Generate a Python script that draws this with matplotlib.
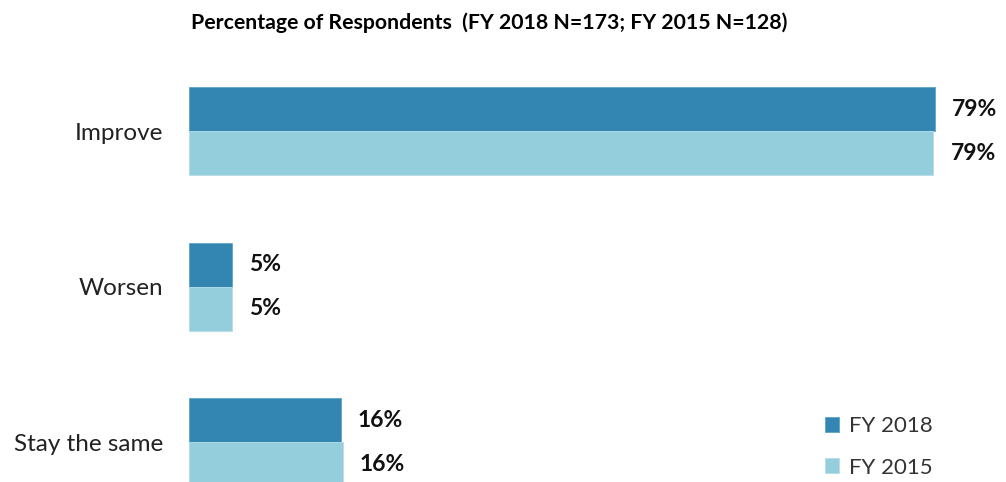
import numpy as np
import matplotlib
matplotlib.use("Agg")
import matplotlib.pyplot as plt

plt.rcParams['font.family'] = ['Lato', 'DejaVu Sans']

# data
categories = ['Improve', 'Worsen', 'Stay the same']
fy2018 = [79.2, 4.6, 16.1]
fy2015 = [79.0, 4.6, 16.3]
series_names = ['FY 2018', 'FY 2015']
title = 'Percentage of Respondents  (FY 2018 N=173; FY 2015 N=128)'

dark = '#3386b1'
light = '#94cedd'

fig = plt.figure(figsize=(10.06, 4.82), dpi=100)
ax = fig.add_axes([189 / 1006, 0, 801 / 1006, 422 / 482])

y = np.arange(len(categories))
h = 0.283
b1 = ax.barh(y - h / 2, fy2018, height=h, color=dark, edgecolor='#5fa3c6', linewidth=0.6, label=series_names[0])
b2 = ax.barh(y + h / 2, fy2015, height=h, color=light, edgecolor='#b5dde8', linewidth=0.6, label=series_names[1])

for bars, vals in [(b1, fy2018), (b2, fy2015)]:
    for rect, v in zip(bars, vals):
        ax.text(v + 1.8, rect.get_y() + rect.get_height() / 2, f'{round(v)}%',
                ha='left', va='center', fontsize=16.5, fontweight='bold', color='#111111')

ax.set_xlim(0, 85)
ax.set_ylim(2.257, -0.457)
ax.set_yticks(y)
ax.set_yticklabels(categories, fontsize=17.5, color='#222222')
ax.tick_params(axis='y', length=0, pad=18.7)
ax.set_xticks([])
for s in ax.spines.values():
    s.set_visible(False)

fig.text(489 / 1006, 1 - 23 / 482, title, ha='center', va='center', fontsize=15.3, fontweight='bold')

leg = ax.legend(loc='center right', bbox_to_anchor=(944 / 1006, 1 - 447 / 482), bbox_transform=fig.transFigure,
                frameon=False, fontsize=16, handlelength=0.65, handleheight=0.65, handletextpad=0.45,
                labelspacing=0.95, labelcolor='#333333', borderpad=0)

fig.savefig('out.png', dpi=100)
